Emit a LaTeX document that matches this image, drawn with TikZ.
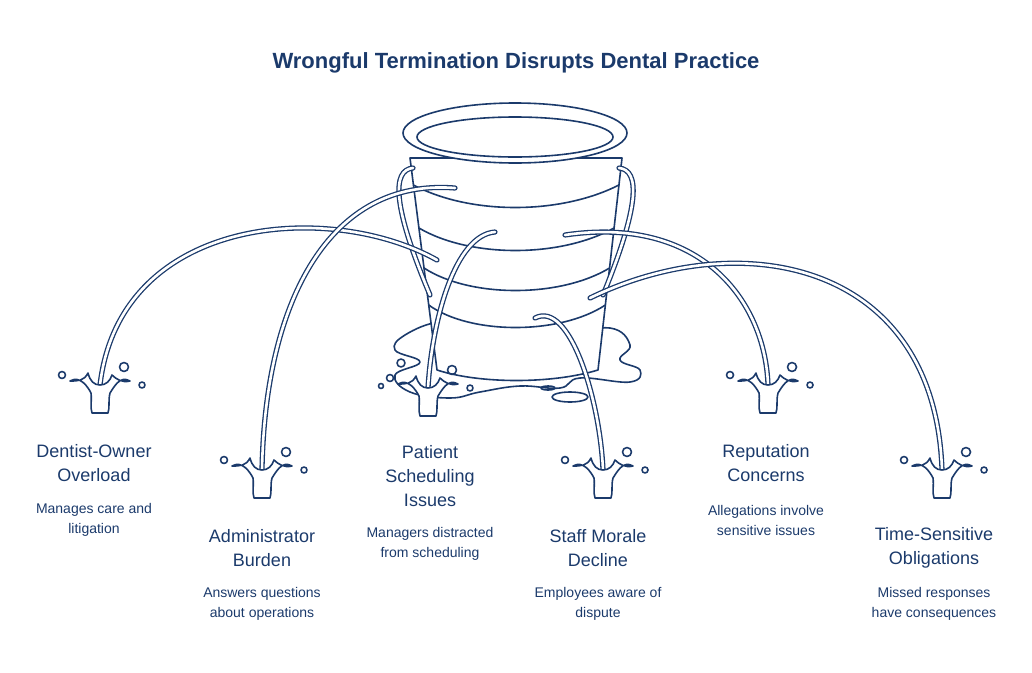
\documentclass[tikz,border=0pt]{standalone}
\usepackage{fontspec}
\setmainfont{Liberation Sans}
\begin{document}
\begin{tikzpicture}[x=1pt,y=-1pt,
  line join=round, line cap=round,
  ink/.style={draw=navy, line width=1.6pt},
  stream/.style={draw=navy, line width=1.3pt, double=white, double distance=2.6pt},
  lbl/.style={text=navy, align=center, font=\fontsize{18}{24}\selectfont},
  dsc/.style={text=navy, align=center, font=\fontsize{14}{20}\selectfont},
  splash/.pic={
    \draw[ink, fill=white] (-30,-4) .. controls (-20,-10) and (-12,2) .. (-9,8)
      .. controls (-8,16) and (-10,22) .. (-8,28) -- (8,28)
      .. controls (10,22) and (8,16) .. (10,8)
      .. controls (14,2) and (20,-10) .. (30,-4)
      .. controls (22,-2) and (16,-6) .. (12,-10)
      .. controls (10,-4) and (6,0) .. (0,0)
      .. controls (-6,0) and (-10,-4) .. (-12,-12)
      .. controls (-16,-4) and (-22,-4) .. (-30,-4) -- cycle;
    \draw[ink] (-38,-10) circle (3.5);
    \draw[ink] (24,-18) circle (4.5);
    \draw[ink] (42,0) circle (3);
  }]
\definecolor{navy}{HTML}{1B3A6B}
\useasboundingbox (0,0) rectangle (1032,672);
\node[text=navy, font=\bfseries\fontsize{22}{26}\selectfont] (title) at (516,63) {Wrongful Termination Disrupts Dental Practice};

% puddle
\draw[ink] plot[smooth cycle, tension=0.7] coordinates {(405,335) (440,322) (470,330) (560,335) (610,328) (630,345) (620,360) (640,370) (630,382) (580,378) (560,388) (520,386) (480,392) (450,398) (410,392) (395,375) (420,362) (395,350)};
\draw[ink] (548,388) ellipse (7 and 2);
\draw[ink] (570,397) ellipse (18 and 5);
\draw[ink] (401,363) circle (4);
\draw[ink] (381,386) circle (2.5);

% bucket body
\draw[ink, fill=white] (410,158) -- (437,370) .. controls (480,384) and (552,384) .. (598,370) -- (622,158) -- cycle;
\foreach \a/\b in {185/0,228/1,268/2,305/3}{
  \pgfmathsetmacro{\xl}{410+27*(\a-158)/212}
  \pgfmathsetmacro{\xr}{622-24*(\a-158)/212}
  \draw[ink] (\xl,\a) .. controls (470,\a+30) and (560,\a+30) .. (\xr,\a);
}
% handles
\draw[stream] (413,168) .. controls (392,170) and (392,205) .. (430,295);
\draw[stream] (619,168) .. controls (640,170) and (640,205) .. (603,295);
% rim
\draw[ink, fill=white] (515,133) ellipse (112 and 30);
\draw[ink] (515,137) ellipse (98 and 20);

% streams
\coordinate (s1) at (437,260); \coordinate (e1) at (100,385);
\coordinate (s2) at (455,188); \coordinate (e2) at (262,470);
\coordinate (s3) at (495,232); \coordinate (e3) at (428,388);
\coordinate (s4) at (535,318); \coordinate (e4) at (603,470);
\coordinate (s5) at (565,235); \coordinate (e5) at (768,385);
\coordinate (s6) at (590,298); \coordinate (e6) at (942,470);
\draw[stream] (s1) .. controls (330,200) and (120,215) .. (e1);
\draw[stream] (s2) .. controls (330,178) and (265,300) .. (e2);
\draw[stream] (s3) .. controls (455,235) and (432,320) .. (e3);
\draw[stream] (s4) .. controls (570,300) and (600,400) .. (e4);
\draw[stream] (s5) .. controls (700,215) and (765,300) .. (e5);
\draw[stream] (s6) .. controls (740,225) and (935,260) .. (e6);
\foreach \e in {e1,e2,e3,e4,e5,e6}{ \pic at (\e) {splash}; }

% labels
\node[lbl] (l1) at (94,463) {Dentist-Owner\\Overload};
\node[dsc] (d1) at (94,520) {Manages care and\\litigation};
\node[lbl] (l2) at (262,548) {Administrator\\Burden};
\node[dsc] (d2) at (262,604) {Answers questions\\about operations};
\node[lbl] (l3) at (430,476) {Patient\\Scheduling\\Issues};
\node[dsc] (d3) at (430,544) {Managers distracted\\from scheduling};
\node[lbl] (l4) at (598,548) {Staff Morale\\Decline};
\node[dsc] (d4) at (598,604) {Employees aware of\\dispute};
\node[lbl] (l5) at (766,463) {Reputation\\Concerns};
\node[dsc] (d5) at (766,520) {Allegations involve\\sensitive issues};
\node[lbl] (l6) at (934,548) {Time-Sensitive\\Obligations};
\node[dsc] (d6) at (934,604) {Missed responses\\have consequences};
\end{tikzpicture}
\end{document}
